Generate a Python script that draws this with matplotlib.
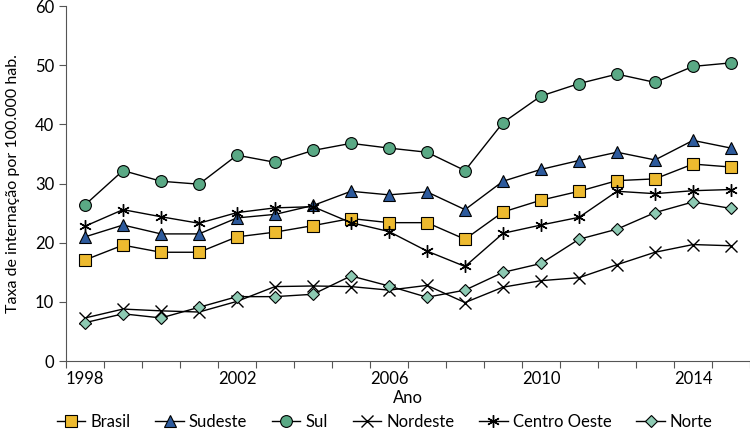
import matplotlib
matplotlib.use('Agg')
import matplotlib.pyplot as plt

plt.rcParams['font.family'] = ['Lato', 'DejaVu Sans']

years = list(range(1998, 2016))
tick_years = [1998, 2002, 2006, 2010, 2014]

brasil = [17.1, 19.6, 18.4, 18.4, 21.0, 21.8, 22.9, 24.1, 23.4, 23.4, 20.6, 25.2, 27.2, 28.7, 30.5, 30.8, 33.3, 32.8]
sudeste = [21.0, 23.0, 21.5, 21.5, 24.2, 24.8, 26.3, 28.7, 28.1, 28.6, 25.6, 30.4, 32.4, 33.9, 35.3, 34.0, 37.3, 36.0]
sul = [26.4, 32.2, 30.4, 29.9, 34.8, 33.6, 35.6, 36.8, 36.0, 35.3, 32.2, 40.3, 44.8, 46.9, 48.5, 47.1, 49.8, 50.4]
nordeste = [7.3, 8.8, 8.5, 8.3, 10.1, 12.6, 12.7, 12.6, 12.0, 12.8, 9.9, 12.5, 13.6, 14.1, 16.3, 18.4, 19.7, 19.5]
centro_oeste = [22.8, 25.6, 24.4, 23.3, 25.1, 25.9, 26.1, 23.4, 21.9, 18.6, 16.0, 21.6, 23.0, 24.3, 28.7, 28.3, 28.8, 29.0]
norte = [6.5, 8.0, 7.3, 9.1, 10.9, 10.9, 11.3, 14.4, 12.7, 10.8, 12.0, 15.0, 16.5, 20.6, 22.3, 25.1, 26.9, 25.8]

fig = plt.figure(figsize=(7.5, 4.32), dpi=100)
ax = fig.add_axes([0.088, 0.164, 0.912, 0.822])

x = list(range(len(years)))
lw = 1.0
ax.plot(x, brasil, color='black', lw=lw, marker='s', ms=8, mfc='#EDBA2F', mec='black', mew=0.8, label='Brasil')
ax.plot(x, sudeste, color='black', lw=lw, marker='^', ms=8.5, mfc='#2D5A9C', mec='black', mew=0.8, label='Sudeste')
ax.plot(x, sul, color='black', lw=lw, marker='o', ms=8.5, mfc='#5AA985', mec='black', mew=0.8, label='Sul')
ax.plot(x, nordeste, color='black', lw=lw, marker='x', ms=8, mew=1.0, label='Nordeste')
ax.plot(x, centro_oeste, color='black', lw=lw, marker=(6, 2, 0), ms=9, mew=1.0, label='Centro Oeste')
ax.plot(x, norte, color='black', lw=lw, marker='D', ms=6.5, mfc='#8DCAB3', mec='black', mew=0.8, label='Norte')

ax.set_xlim(-0.5, len(years) - 0.5)
ax.set_ylim(0, 60)
ax.set_yticks(range(0, 61, 10))

# category-style axis: tick marks between years, labels every 4 years
ax.set_xticks([i - 0.5 for i in range(len(years) + 1)])
ax.set_xticklabels([])
ax.set_xticks([years.index(y) for y in tick_years], minor=True)
ax.set_xticklabels([str(y) for y in tick_years], minor=True)
ax.tick_params(axis='x', which='major', length=5, color='#555555', direction='out')
ax.tick_params(axis='x', which='minor', length=0, labelsize=12, pad=7)
ax.tick_params(axis='y', length=5, color='#555555', labelsize=12)

for s in ['top', 'right']:
    ax.spines[s].set_visible(False)
for s in ['left', 'bottom']:
    ax.spines[s].set_color('#555555')

ax.set_xlabel('Ano', fontsize=12, labelpad=2)
ax.set_ylabel('Taxa de internação por 100.000 hab.', fontsize=11.5, labelpad=11)

ax.legend(loc='center', bbox_to_anchor=(0.466, -0.17), ncol=6, frameon=False,
          fontsize=12, handlelength=1.7, handletextpad=0.3, columnspacing=1.5,
          borderaxespad=0, borderpad=0)

fig.savefig('out.png', dpi=100)
